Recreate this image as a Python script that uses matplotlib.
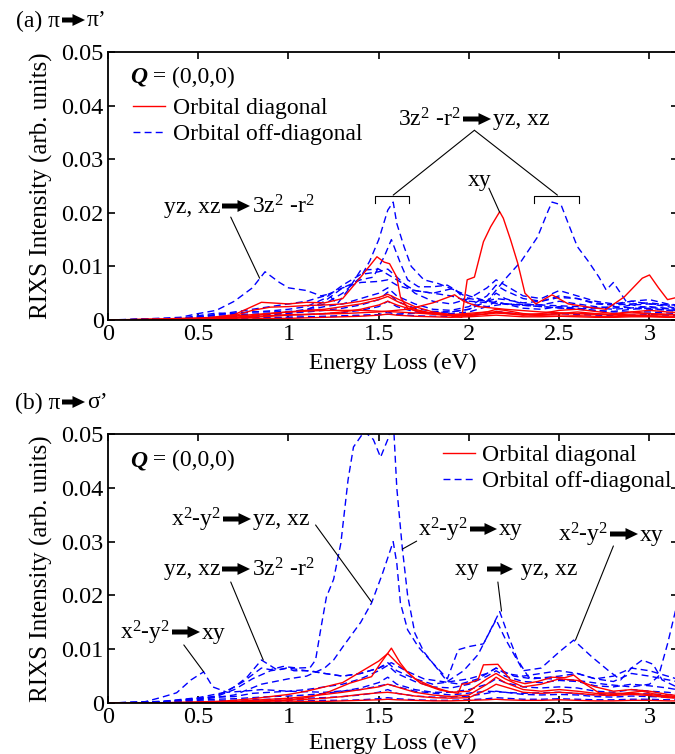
import matplotlib
matplotlib.use("Agg")
import matplotlib.pyplot as plt
from matplotlib.lines import Line2D
from matplotlib.patches import FancyArrowPatch

plt.rcParams['font.family'] = ['Liberation Serif', 'DejaVu Sans']
plt.rcParams['font.size'] = 17
plt.rcParams['mathtext.fontset'] = 'custom'
plt.rcParams['mathtext.rm'] = 'Liberation Serif'
plt.rcParams['mathtext.it'] = 'Liberation Serif:italic'
plt.rcParams['mathtext.default'] = 'regular'

# common coarse energy grid (eV) for the weaker curves
grid = [0, 0.2, 0.4, 0.5, 0.6, 0.7, 0.8, 0.9, 1.0, 1.1, 1.2, 1.3, 1.4, 1.5, 1.55, 1.6, 1.7,
        1.8, 1.9, 2.0, 2.1, 2.15, 2.2, 2.3, 2.4, 2.5, 2.6, 2.7, 2.8, 2.9, 3.0, 3.1, 3.15]

# ---------------- panel (a) pi -> pi' ----------------
# orbital diagonal (red)
a_xy_e = [0, 0.3, 0.6, 0.8, 1.0, 1.2, 1.4, 1.6, 1.75, 1.9, 1.96, 1.99, 2.03, 2.08, 2.12, 2.17,
          2.19, 2.23, 2.27, 2.31, 2.37, 2.46, 2.55, 2.68, 2.76, 2.86, 2.96, 3.0, 3.05, 3.1, 3.15]
a_xy_i = [0, 0.0002, 0.0005, 0.001, 0.0015, 0.0018, 0.0018, 0.0015, 0.0012, 0.0008, 0.0005,
          0.0075, 0.008, 0.0146, 0.0174, 0.0202, 0.019, 0.015, 0.0106, 0.005, 0.003, 0.0047,
          0.003, 0.0023, 0.002, 0.0043, 0.0078, 0.0084, 0.006, 0.0038, 0.0042]
a_d15_e = [0, 0.5, 0.7, 0.85, 1.0, 1.1, 1.2, 1.3, 1.34, 1.4, 1.49, 1.53, 1.56, 1.6, 1.62, 1.66,
           1.72, 1.9, 2.1, 2.3, 2.6, 2.9, 3.15]
a_d15_i = [0, 0.0002, 0.001, 0.0033, 0.003, 0.0033, 0.0032, 0.004, 0.0056, 0.008, 0.0118, 0.0108,
           0.0105, 0.008, 0.0043, 0.0022, 0.0015, 0.001, 0.0015, 0.001, 0.0012, 0.0008, 0.001]
a_d19_e = [0, 0.6, 1.0, 1.3, 1.5, 1.66, 1.8, 1.92, 1.97, 2.05, 2.2, 2.4, 2.6, 2.8, 3.0, 3.15]
a_d19_i = [0, 0.0003, 0.001, 0.0012, 0.0015, 0.002, 0.0032, 0.0047, 0.0035, 0.0025, 0.002,
           0.0015, 0.0012, 0.001, 0.0012, 0.001]
a_d3_i = [0, 0, 0.0001, 0.0002, 0.0004, 0.0008, 0.0018, 0.0024, 0.0025, 0.0027, 0.0028, 0.003,
          0.0035, 0.0042, 0.0048, 0.004, 0.0025, 0.0015, 0.001, 0.001, 0.0015, 0.002, 0.0018,
          0.0012, 0.001, 0.0012, 0.0015, 0.0012, 0.001, 0.0015, 0.0012, 0.001, 0.001]
a_d4_i = [0, 0, 0.0001, 0.0002, 0.0003, 0.0005, 0.0008, 0.0012, 0.0015, 0.0018, 0.002, 0.0025,
          0.003, 0.0038, 0.0044, 0.0035, 0.002, 0.0012, 0.0008, 0.0008, 0.0012, 0.0016, 0.0014,
          0.001, 0.0008, 0.0007, 0.0008, 0.0007, 0.0006, 0.0008, 0.0007, 0.0006, 0.0006]
a_d5_i = [0, 0, 0, 0.0001, 0.0002, 0.0003, 0.0005, 0.0007, 0.0009, 0.001, 0.0012, 0.0015, 0.002,
          0.0028, 0.0035, 0.0028, 0.0018, 0.0012, 0.001, 0.0009, 0.0011, 0.0013, 0.0012, 0.0009,
          0.0012, 0.0018, 0.002, 0.0016, 0.0012, 0.0015, 0.0018, 0.0015, 0.0014]
a_d6_i = [0, 0, 0, 0, 0.0001, 0.0001, 0.0002, 0.0003, 0.0003, 0.0004, 0.0005, 0.0006, 0.0007,
          0.0009, 0.0011, 0.0009, 0.0007, 0.0006, 0.0005, 0.0006, 0.0008, 0.0009, 0.0008, 0.0006,
          0.0006, 0.0007, 0.0006, 0.0005, 0.0005, 0.0006, 0.0006, 0.0005, 0.0005]

# orbital off-diagonal (blue)
a_o087_e = [0, 0.2, 0.4, 0.5, 0.6, 0.7, 0.8, 0.87, 0.95, 1.0, 1.1, 1.18, 1.22, 1.27, 1.33, 1.4,
            1.5, 1.6, 1.7, 1.8, 1.9, 2.0, 2.2, 2.4, 2.6, 2.8, 3.0, 3.15]
a_o087_i = [0, 0.0002, 0.0005, 0.0012, 0.0018, 0.0035, 0.006, 0.009, 0.007, 0.006, 0.0055,
            0.0045, 0.0048, 0.003, 0.0056, 0.0093, 0.0095, 0.0075, 0.0055, 0.005, 0.0045, 0.0035,
            0.003, 0.0025, 0.002, 0.0025, 0.002, 0.0018]
a_o158_e = [0, 0.6, 0.9, 1.1, 1.2, 1.3, 1.4, 1.45, 1.5, 1.55, 1.58, 1.6, 1.64, 1.68, 1.75, 1.83,
            1.92, 2.0, 2.2, 2.4, 2.6, 2.8, 3.0, 3.15]
a_o158_i = [0, 0.0003, 0.001, 0.002, 0.003, 0.005, 0.008, 0.011, 0.015, 0.0205, 0.022, 0.018,
            0.0137, 0.01, 0.0075, 0.0068, 0.0056, 0.004, 0.003, 0.0025, 0.002, 0.0015, 0.0015,
            0.0012]
a_o157_e = [0, 0.5, 0.8, 1.0, 1.1, 1.2, 1.3, 1.4, 1.47, 1.53, 1.57, 1.62, 1.66, 1.72, 1.8, 1.88,
            1.93, 2.0, 2.1, 2.2, 2.4, 2.6, 2.8, 3.0, 3.15]
a_o157_i = [0, 0.0003, 0.0008, 0.0012, 0.0018, 0.0035, 0.006, 0.0075, 0.008, 0.0118, 0.015,
            0.0106, 0.0075, 0.0062, 0.0062, 0.0065, 0.0055, 0.003, 0.0025, 0.003, 0.0028, 0.0025,
            0.002, 0.0025, 0.002]
a_o246_e = [0, 1.0, 1.5, 1.9, 2.0, 2.1, 2.21, 2.29, 2.38, 2.44, 2.46, 2.51, 2.55, 2.6, 2.66, 2.72,
            2.76, 2.8, 2.84, 2.88, 2.95, 3.05, 3.15]
a_o246_i = [0, 0.0005, 0.001, 0.0015, 0.002, 0.0035, 0.008, 0.011, 0.0155, 0.0205, 0.022, 0.0215,
            0.018, 0.0137, 0.011, 0.008, 0.0056, 0.007, 0.005, 0.003, 0.0025, 0.0022, 0.002]
a_o5_i = [0, 0.0001, 0.0003, 0.0006, 0.001, 0.0013, 0.0015, 0.0017, 0.002, 0.0025, 0.004, 0.0065,
          0.0085, 0.009, 0.0095, 0.008, 0.005, 0.0035, 0.003, 0.004, 0.006, 0.0075, 0.0065, 0.0045,
          0.004, 0.0055, 0.0045, 0.0035, 0.003, 0.0035, 0.003, 0.0028, 0.0028]
a_o6_i = [0, 0.0001, 0.0003, 0.0008, 0.0013, 0.0012, 0.0015, 0.0015, 0.0016, 0.0018, 0.0025,
          0.003, 0.004, 0.005, 0.006, 0.0045, 0.003, 0.002, 0.0018, 0.0025, 0.0045, 0.0065,
          0.0055, 0.004, 0.0035, 0.0045, 0.004, 0.003, 0.0028, 0.0035, 0.0038, 0.003, 0.0028]
a_o7_i = [0, 0.0001, 0.0002, 0.0005, 0.0009, 0.001, 0.0011, 0.0012, 0.0013, 0.0015, 0.0018,
          0.0022, 0.0028, 0.0038, 0.0052, 0.0035, 0.0022, 0.0016, 0.0015, 0.002, 0.0035, 0.005,
          0.004, 0.003, 0.0028, 0.0035, 0.003, 0.0025, 0.0022, 0.0028, 0.003, 0.0025, 0.0022]
a_o8_i = [0, 0.0001, 0.0002, 0.0004, 0.0006, 0.0007, 0.0008, 0.0008, 0.0009, 0.001, 0.0012,
          0.0014, 0.0018, 0.0025, 0.0035, 0.0025, 0.0015, 0.0012, 0.0012, 0.0015, 0.0025, 0.0035,
          0.003, 0.0022, 0.002, 0.0025, 0.0022, 0.0018, 0.0016, 0.002, 0.0022, 0.0018, 0.0016]
a_o9_i = [0, 0, 0.0001, 0.0002, 0.0003, 0.0003, 0.0004, 0.0004, 0.0005, 0.0005, 0.0006, 0.0007,
          0.0008, 0.001, 0.0015, 0.001, 0.0008, 0.0007, 0.0007, 0.0008, 0.0012, 0.0016, 0.0014,
          0.001, 0.001, 0.0012, 0.001, 0.0009, 0.0008, 0.0009, 0.001, 0.0009, 0.0008]
a_o10_i = [0, 0.0001, 0.0003, 0.0006, 0.001, 0.0015, 0.002, 0.0025, 0.003, 0.0035, 0.0045, 0.006,
           0.007, 0.0072, 0.0075, 0.0065, 0.0055, 0.005, 0.0058, 0.0045, 0.0035, 0.004, 0.0038,
           0.0032, 0.0035, 0.0042, 0.004, 0.0032, 0.0028, 0.003, 0.0032, 0.0028, 0.0026]

# ---------------- panel (b) pi -> sigma' ----------------
b_d157_e = [0, 0.5, 0.8, 1.0, 1.1, 1.21, 1.34, 1.46, 1.51, 1.57, 1.62, 1.66, 1.73, 1.84, 1.94,
            1.96, 1.99, 2.05, 2.08, 2.16, 2.23, 2.31, 2.38, 2.46, 2.53, 2.58, 2.64, 2.72, 2.85,
            2.96, 3.05, 3.15]
b_d157_i = [0, 0.0001, 0.0003, 0.0006, 0.001, 0.0019, 0.0037, 0.0049, 0.0074, 0.0102, 0.0074,
            0.0057, 0.0037, 0.0024, 0.0018, 0.0035, 0.0036, 0.0043, 0.0071, 0.0072, 0.0043,
            0.0036, 0.004, 0.0048, 0.0047, 0.0052, 0.0036, 0.0019, 0.0018, 0.0022, 0.0015, 0.0012]
b_d2_i = [0, 0, 0.0001, 0.0002, 0.0003, 0.0005, 0.0008, 0.0012, 0.0016, 0.0022, 0.003, 0.0038,
          0.0058, 0.0078, 0.0092, 0.0075, 0.0045, 0.003, 0.002, 0.0022, 0.0045, 0.0055, 0.0045,
          0.003, 0.0035, 0.0045, 0.0042, 0.003, 0.0022, 0.0025, 0.0022, 0.0016, 0.0014]
b_d3_i = [0, 0, 0.0001, 0.0001, 0.0002, 0.0003, 0.0005, 0.0007, 0.0009, 0.0012, 0.0016, 0.002,
          0.0025, 0.003, 0.0035, 0.003, 0.002, 0.0015, 0.0012, 0.0015, 0.0035, 0.0048, 0.0038,
          0.0025, 0.0022, 0.0025, 0.0022, 0.0018, 0.0016, 0.0018, 0.0016, 0.0012, 0.001]
b_d4_i = [0, 0, 0, 0.0001, 0.0001, 0.0002, 0.0003, 0.0004, 0.0005, 0.0007, 0.0009, 0.0012,
          0.0016, 0.0019, 0.002, 0.0018, 0.0013, 0.001, 0.0009, 0.001, 0.0025, 0.0035, 0.003,
          0.002, 0.0018, 0.002, 0.0018, 0.0015, 0.0014, 0.0016, 0.0014, 0.001, 0.0009]
b_d5_i = [0, 0, 0, 0, 0.0001, 0.0001, 0.0001, 0.0002, 0.0002, 0.0003, 0.0003, 0.0004, 0.0005,
          0.0006, 0.0007, 0.0006, 0.0005, 0.0004, 0.0004, 0.0005, 0.0006, 0.0007, 0.0006, 0.0005,
          0.0005, 0.0006, 0.0005, 0.0004, 0.0004, 0.0005, 0.0005, 0.0004, 0.0004]

b_big_e = [0, 0.3, 0.5, 0.65, 0.75, 0.85, 0.9, 0.97, 1.05, 1.12, 1.15, 1.18, 1.21, 1.25, 1.29,
           1.33, 1.36, 1.42, 1.47, 1.51, 1.55, 1.58, 1.6, 1.63, 1.66, 1.7, 1.75, 1.8, 1.88, 1.94,
           2.0, 2.08, 2.15, 2.2, 2.3, 2.4, 2.5, 2.58, 2.68, 2.77, 2.84, 2.9, 2.96, 3.02, 3.07,
           3.15]
b_big_i = [0, 0.0003, 0.001, 0.002, 0.004, 0.0065, 0.0062, 0.0068, 0.0065, 0.0066, 0.008, 0.014,
           0.0197, 0.023, 0.0297, 0.0415, 0.0476, 0.0505, 0.049, 0.0457, 0.049, 0.053, 0.04,
           0.029, 0.02, 0.013, 0.0095, 0.0074, 0.0045, 0.0099, 0.0105, 0.011, 0.0155, 0.012,
           0.006, 0.0065, 0.0095, 0.0117, 0.0086, 0.0061, 0.0043, 0.0065, 0.008, 0.0072, 0.0043,
           0.003]
b_o158_e = [0, 0.3, 0.5, 0.7, 0.85, 1.0, 1.1, 1.2, 1.25, 1.3, 1.4, 1.46, 1.52, 1.58, 1.6, 1.62,
            1.66, 1.72, 1.8, 1.88, 1.97, 2.05, 2.1, 2.17, 2.22, 2.27, 2.33, 2.45, 2.6, 2.75, 2.9,
            3.0, 3.05, 3.1, 3.15]
b_o158_i = [0, 0.0002, 0.0006, 0.0015, 0.0035, 0.0045, 0.005, 0.0065, 0.008, 0.0104, 0.015,
            0.0186, 0.024, 0.030, 0.026, 0.0186, 0.0136, 0.0104, 0.0074, 0.004, 0.006, 0.009,
            0.0123, 0.017, 0.0123, 0.008, 0.0048, 0.0045, 0.0042, 0.0035, 0.003, 0.0035, 0.005,
            0.011, 0.018]
b_o053_e = [0, 0.2, 0.29, 0.38, 0.46, 0.53, 0.58, 0.66, 0.75, 0.85, 1.0, 1.2, 1.4, 1.55, 1.7,
            1.9, 2.1, 2.3, 2.5, 2.7, 2.9, 3.15]
b_o053_i = [0, 0.0002, 0.001, 0.0019, 0.0043, 0.0058, 0.003, 0.002, 0.0022, 0.0025, 0.0022,
            0.002, 0.0025, 0.0035, 0.0022, 0.0015, 0.0022, 0.0018, 0.002, 0.0015, 0.0018, 0.0015]
b_o085_e = [0, 0.3, 0.5, 0.6, 0.7, 0.77, 0.85, 0.94, 0.99, 1.03, 1.12, 1.2, 1.3, 1.4, 1.5, 1.57,
            1.65, 1.75, 1.85, 1.95, 2.05, 2.15, 2.25, 2.35, 2.5, 2.6, 2.7, 2.8, 2.9, 3.0, 3.15]
b_o085_i = [0, 0.0003, 0.0008, 0.0013, 0.003, 0.0048, 0.008, 0.0061, 0.0065, 0.006, 0.006,
            0.0055, 0.005, 0.0055, 0.0065, 0.0075, 0.006, 0.0045, 0.004, 0.0035, 0.0045, 0.0065,
            0.005, 0.0045, 0.005, 0.0055, 0.0045, 0.004, 0.0055, 0.005, 0.004]
b_o5_i = [0, 0.0001, 0.0004, 0.0008, 0.0012, 0.0025, 0.0045, 0.006, 0.0065, 0.006, 0.0055, 0.005,
          0.0055, 0.0065, 0.0075, 0.006, 0.0045, 0.0035, 0.004, 0.0045, 0.0055, 0.0065, 0.0055,
          0.005, 0.0055, 0.006, 0.0055, 0.0045, 0.005, 0.0065, 0.006, 0.005, 0.0045]
b_o6_i = [0, 0.0001, 0.0004, 0.0009, 0.0011, 0.0012, 0.0018, 0.002, 0.0022, 0.0025, 0.003,
          0.0035, 0.0045, 0.006, 0.007, 0.0055, 0.004, 0.003, 0.0028, 0.0035, 0.005, 0.006, 0.005,
          0.004, 0.0038, 0.0042, 0.004, 0.0032, 0.003, 0.0035, 0.0032, 0.0028, 0.0025]
b_o7_i = [0, 0, 0.0002, 0.0005, 0.0007, 0.0008, 0.001, 0.0012, 0.0013, 0.0015, 0.0018, 0.0022,
          0.0028, 0.0038, 0.0048, 0.0035, 0.0025, 0.002, 0.002, 0.0025, 0.0035, 0.0045, 0.0038,
          0.003, 0.0028, 0.003, 0.0028, 0.0022, 0.002, 0.0025, 0.0022, 0.002, 0.0018]
b_o8_i = [0, 0, 0.0001, 0.0003, 0.0004, 0.0005, 0.0006, 0.0007, 0.0008, 0.0009, 0.001, 0.0012,
          0.0015, 0.002, 0.0025, 0.0018, 0.0013, 0.0011, 0.0011, 0.0013, 0.0018, 0.0022, 0.002,
          0.0016, 0.0015, 0.0016, 0.0015, 0.0012, 0.0011, 0.0013, 0.0012, 0.0011, 0.001]
b_o9_i = [0, 0, 0.0001, 0.0001, 0.0002, 0.0002, 0.0003, 0.0003, 0.0004, 0.0004, 0.0005, 0.0005,
          0.0006, 0.0008, 0.001, 0.0008, 0.0006, 0.0005, 0.0005, 0.0006, 0.0008, 0.001, 0.0009,
          0.0007, 0.0007, 0.0008, 0.0007, 0.0006, 0.0006, 0.0007, 0.0007, 0.0006, 0.0006]

xticks = [0, 0.5, 1, 1.5, 2, 2.5, 3]
xticklabels = ['0', '0.5', '1', '1.5', '2', '2.5', '3']
yticks = [0, 0.01, 0.02, 0.03, 0.04, 0.05]
yticklabels = ['0', '0.01', '0.02', '0.03', '0.04', '0.05']

RED = '#ff0000'
BLUE = '#0000ff'
W, H = 675, 754

fig = plt.figure(figsize=(6.75, 7.54), dpi=100)
ax1 = fig.add_axes([0.16, 0.5756, 0.845, 0.3554])
ax2 = fig.add_axes([0.16, 0.0676, 0.845, 0.3567])

a_red = [(a_xy_e, a_xy_i), (a_d15_e, a_d15_i), (a_d19_e, a_d19_i), (grid, a_d3_i),
         (grid, a_d4_i), (grid, a_d5_i), (grid, a_d6_i)]
a_blue = [(a_o087_e, a_o087_i), (a_o158_e, a_o158_i), (a_o157_e, a_o157_i),
          (a_o246_e, a_o246_i), (grid, a_o5_i), (grid, a_o6_i), (grid, a_o7_i),
          (grid, a_o8_i), (grid, a_o9_i), (grid, a_o10_i)]
b_red = [(b_d157_e, b_d157_i), (grid, b_d2_i), (grid, b_d3_i), (grid, b_d4_i), (grid, b_d5_i)]
b_blue = [(b_big_e, b_big_i), (b_o158_e, b_o158_i), (b_o053_e, b_o053_i),
          (b_o085_e, b_o085_i), (grid, b_o5_i), (grid, b_o6_i), (grid, b_o7_i),
          (grid, b_o8_i), (grid, b_o9_i)]

for ax, reds, blues, qy, xl in [(ax1, a_red, a_blue, 0.905, -0.122),
                                (ax2, b_red, b_blue, 0.9, -0.11)]:
    for e, i in blues:
        ax.plot(e, i, color=BLUE, lw=1.0, dashes=(5, 3))
    for e, i in reds:
        ax.plot(e, i, color=RED, lw=1.0)
    ax.set_xlim(0, 3.16)
    ax.set_ylim(0, 0.05)
    ax.set_xticks(xticks)
    ax.set_xticklabels(xticklabels)
    ax.set_yticks(yticks)
    ax.set_yticklabels(yticklabels)
    ax.tick_params(direction='in', top=True, right=True, length=5, width=1.2, pad=3,
                   labelsize=17.5)
    for s in ax.spines.values():
        s.set_linewidth(1.3)
    ax.set_xlabel('Energy Loss (eV)', fontsize=17)
    ax.set_ylabel('RIXS Intensity (arb. units)', fontsize=18)
    ax.xaxis.set_label_coords(0.5, xl)
    ax.yaxis.set_label_coords(-0.097, 0.5)
    q = ax.text(0.039, qy, 'Q', transform=ax.transAxes, fontweight='bold',
                fontstyle='italic', va='center', ha='left')
    ax.annotate(' = (0,0,0)', xy=(1, 0), xycoords=q, va='bottom', ha='left')

handles = [Line2D([], [], color=RED, lw=1.0),
           Line2D([], [], color=BLUE, lw=1.0, dashes=(5, 3))]
labels = ['Orbital diagonal', 'Orbital off-diagonal']
ax1.legend(handles, labels, loc='upper left', bbox_to_anchor=(0.044, 0.83), frameon=False,
           borderpad=0, borderaxespad=0, handlelength=1.35, handletextpad=0.35,
           labelspacing=0.18)
ax2.legend(handles, labels, loc='upper left', bbox_to_anchor=(0.587, 0.96), frameon=False,
           borderpad=0, borderaxespad=0, handlelength=1.35, handletextpad=0.3,
           labelspacing=0.18)


def arrow_label(left, right, x0, x1, y):
    # left text, thick black arrow, right text; positions in figure pixels from top-left
    fig.text((x0 - 2) / W, 1 - y / H, left, ha='right', va='center')
    fig.text((x1 + 2) / W, 1 - y / H, right, ha='left', va='center')
    fig.add_artist(FancyArrowPatch((x0 / W, 1 - (y - 1) / H), (x1 / W, 1 - (y - 1) / H),
                                   transform=fig.transFigure, color='black', lw=0,
                                   arrowstyle='simple,head_length=0.45,head_width=0.43,'
                                              'tail_width=0.18',
                                   mutation_scale=20, shrinkA=0, shrinkB=0))


Z2 = '3z$^2$ -r$^2$'
X2 = 'x$^2$-y$^2$'

arrow_label('(a) \u03c0', '\u03c0\u2019', 62, 85, 21)
arrow_label('(b) \u03c0', '\u03c3\u2019', 62, 85, 403)

line_kw = dict(arrowprops=dict(arrowstyle='-', lw=0.8, color='black', shrinkA=0, shrinkB=0))

# panel (a) annotations
arrow_label(Z2, 'yz, xz', 463, 491, 120)
ax1.annotate('', xy=(1.58, 0.0233), xytext=(2.03, 0.0354), **line_kw)
ax1.annotate('', xy=(2.49, 0.0233), xytext=(2.03, 0.0354), **line_kw)
for x0, x1 in [(1.48, 1.67), (2.36, 2.61)]:
    ax1.plot([x0, x0, x1, x1], [0.0218, 0.0232, 0.0232, 0.0218], color='black', lw=0.8)
ax1.text(2.06, 0.0261, 'xy', ha='center', va='center')
ax1.annotate('', xy=(2.17, 0.0201), xytext=(2.11, 0.0246), **line_kw)
arrow_label('yz, xz', Z2, 222, 250, 207)
ax1.annotate('', xy=(0.84, 0.0078), xytext=(0.68, 0.0192), **line_kw)

# panel (b) annotations
arrow_label(X2, 'yz, xz', 223, 251, 520)
ax2.annotate('', xy=(1.46, 0.0188), xytext=(1.15, 0.0331), **line_kw)
arrow_label('yz, xz', Z2, 222, 250, 570)
ax2.annotate('', xy=(0.86, 0.008), xytext=(0.68, 0.0225), **line_kw)
arrow_label(X2, 'xy', 172, 200, 633)
ax2.annotate('', xy=(0.53, 0.0058), xytext=(0.42, 0.0108), **line_kw)
arrow_label(X2, 'xy', 470, 497, 530)
ax2.annotate('', xy=(1.63, 0.0286), xytext=(1.71, 0.0301), **line_kw)
arrow_label(X2, 'xy', 610, 638, 535)
ax2.annotate('', xy=(2.59, 0.0117), xytext=(2.8, 0.0292), **line_kw)
arrow_label('xy ', ' yz, xz', 487, 513, 570)
ax2.annotate('', xy=(2.18, 0.0171), xytext=(2.16, 0.0225), **line_kw)

fig.savefig('out.png', dpi=100)
